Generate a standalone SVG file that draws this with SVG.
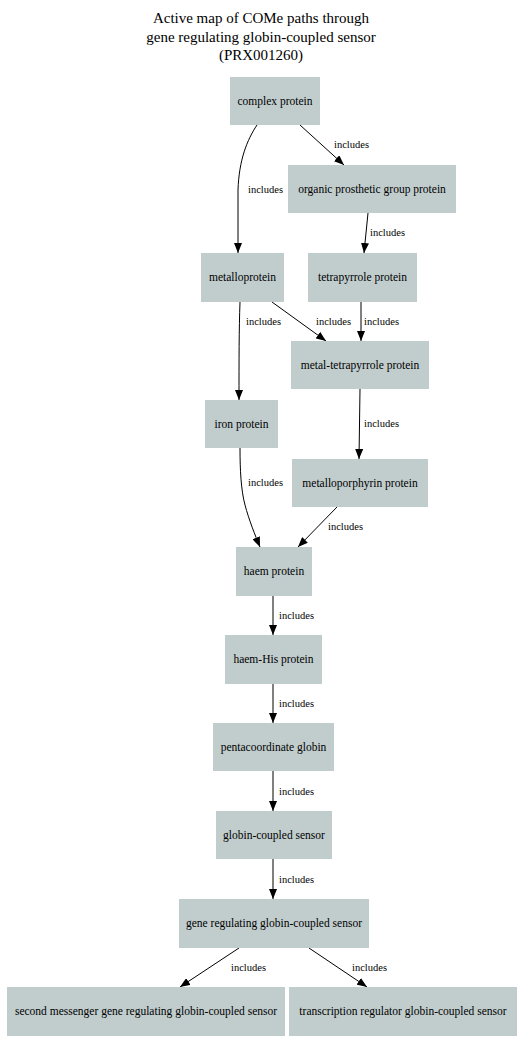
<svg xmlns="http://www.w3.org/2000/svg" width="521" height="1052" viewBox="0 0 521 1052">
<style>
.n rect{fill:#c1cdcd;stroke:none}
.n text{font-family:"Liberation Serif","Times New Roman",serif;font-size:11.5px;text-anchor:middle;fill:#000}
.t{font-family:"Liberation Serif","Times New Roman",serif;font-size:15px;text-anchor:middle;fill:#000}
#edges path{fill:none;stroke:#000;stroke-width:1}
#edges text{font-family:"Liberation Serif","Times New Roman",serif;font-size:10.5px;fill:#000}
</style>
<defs>
<marker id="ah" markerWidth="10" markerHeight="8" refX="10" refY="4" orient="auto" markerUnits="userSpaceOnUse">
<path d="M0,0 L10,4 L0,8 Z" fill="#000"/>
</marker>
</defs>
<rect width="521" height="1052" fill="#fff"/>
<g id="title">
<text class="t" x="261" y="23">Active map of COMe paths through</text>
<text class="t" x="261" y="42">gene regulating globin-coupled sensor</text>
<text class="t" x="261" y="60">(PRX001260)</text>
</g>
<g id="edges">
<path d="M257,125 C247,140 239,160 238,190 L238,253" marker-end="url(#ah)"/>
<text x="248" y="193">includes</text>
<path d="M300,125 L344,165" marker-end="url(#ah)"/>
<text x="334" y="148">includes</text>
<path d="M368,213 L364,253" marker-end="url(#ah)"/>
<text x="370" y="236">includes</text>
<path d="M240,302 C239,330 239,360 239,400" marker-end="url(#ah)"/>
<text x="246" y="325">includes</text>
<path d="M272,302 L326,341" marker-end="url(#ah)"/>
<text x="316" y="325">includes</text>
<path d="M361,302 L361,341" marker-end="url(#ah)"/>
<text x="364" y="325">includes</text>
<path d="M360,389 L359,459" marker-end="url(#ah)"/>
<text x="364" y="427">includes</text>
<path d="M240,448 C240,470 241,490 245,505 C249,520 255,535 260,547" marker-end="url(#ah)"/>
<text x="248" y="486">includes</text>
<path d="M337,507 L298,547" marker-end="url(#ah)"/>
<text x="328" y="530">includes</text>
<path d="M273,596 L273,635" marker-end="url(#ah)"/>
<text x="279" y="619">includes</text>
<path d="M273,684 L273,723" marker-end="url(#ah)"/>
<text x="279" y="707">includes</text>
<path d="M273,771 L273,811" marker-end="url(#ah)"/>
<text x="279" y="795">includes</text>
<path d="M273,859 L273,899" marker-end="url(#ah)"/>
<text x="279" y="883">includes</text>
<path d="M239,948 L180,987" marker-end="url(#ah)"/>
<text x="231" y="971">includes</text>
<path d="M309,948 L367,987" marker-end="url(#ah)"/>
<text x="352" y="971">includes</text>
</g>
<g id="n1" class="n"><rect x="230" y="77" width="90" height="48"/><text x="275" y="105">complex protein</text></g>
<g id="n2" class="n"><rect x="288" y="165" width="168" height="48"/><text x="372" y="193">organic prosthetic group protein</text></g>
<g id="n3" class="n"><rect x="201" y="253" width="83" height="49"/><text x="242.5" y="281">metalloprotein</text></g>
<g id="n4" class="n"><rect x="308" y="253" width="109" height="49"/><text x="362.5" y="281">tetrapyrrole protein</text></g>
<g id="n5" class="n"><rect x="291" y="341" width="138" height="48"/><text x="360" y="369">metal-tetrapyrrole protein</text></g>
<g id="n6" class="n"><rect x="205" y="400" width="73" height="48"/><text x="241.5" y="428">iron protein</text></g>
<g id="n7" class="n"><rect x="292" y="459" width="136" height="48"/><text x="360" y="487">metalloporphyrin protein</text></g>
<g id="n8" class="n"><rect x="236" y="547" width="76" height="49"/><text x="274" y="575">haem protein</text></g>
<g id="n9" class="n"><rect x="225" y="635" width="97" height="49"/><text x="273.5" y="663">haem-His protein</text></g>
<g id="n10" class="n"><rect x="213" y="723" width="121" height="48"/><text x="273.5" y="751">pentacoordinate globin</text></g>
<g id="n11" class="n"><rect x="216" y="811" width="116" height="48"/><text x="274" y="839">globin-coupled sensor</text></g>
<g id="n12" class="n"><rect x="179" y="899" width="190" height="49"/><text x="274" y="927">gene regulating globin-coupled sensor</text></g>
<g id="n13" class="n"><rect x="7" y="987" width="278" height="49"/><text x="146" y="1015">second messenger gene regulating globin-coupled sensor</text></g>
<g id="n14" class="n"><rect x="289" y="987" width="228" height="49"/><text x="403" y="1015">transcription regulator globin-coupled sensor</text></g>
</svg>
